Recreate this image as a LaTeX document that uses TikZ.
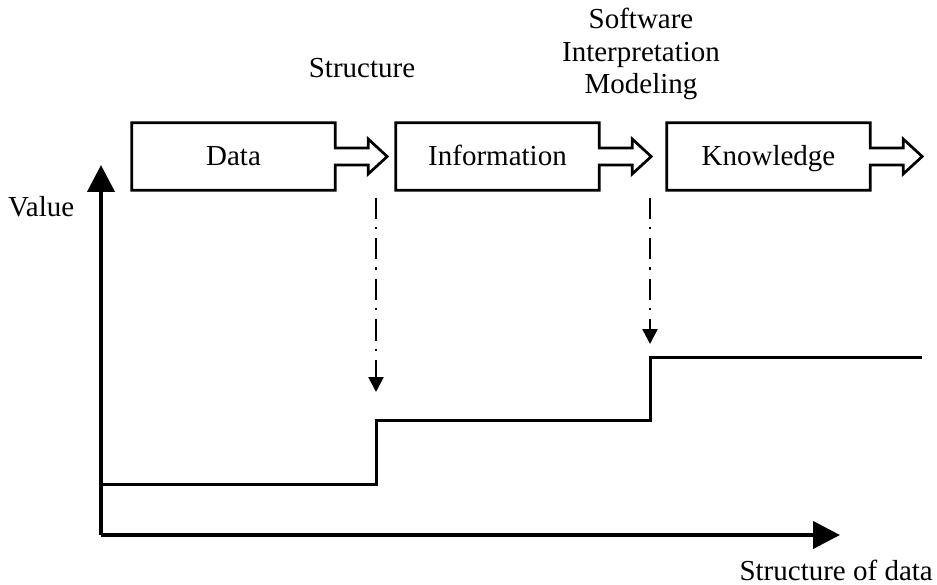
\documentclass[tikz,border=0pt]{standalone}
\usepackage{fontspec}
\setmainfont{Liberation Serif}
\usetikzlibrary{arrows.meta,calc}
\begin{document}
\begin{tikzpicture}[x=1pt,y=-1pt,
  every node/.style={font=\fontsize{29}{32.5}\selectfont, inner sep=0pt},
  stagebox/.style={minimum width=203pt, minimum height=67pt, text height=25pt, text depth=6pt},
  outline/.style={line width=2.7pt, line join=miter},
  axis/.style={line width=4.2pt, -{Triangle[length=27pt,width=27pt]}},
  level/.style={line width=3pt},
  dashdot/.style={line width=2.6pt, dash pattern=on 21pt off 8pt on 2.5pt off 9pt, -{Triangle[length=15pt,width=15pt]}}
]
\useasboundingbox (0,0) rectangle (937,585);

% stage boxes with outline arrows
\node[stagebox] (data) at (233.5,156.5) {Data};
\node[stagebox] (info) at (497.5,156.5) {Information};
\node[stagebox] (know) at (768.5,156.5) {Knowledge};

\foreach \b in {data,info,know}{
  \draw[outline] (\b.north west) -- (\b.north east) -- ($(\b.east)+(0,-8.5)$)
    -- ++(33,0) -- ++(0,-9) -- ($(\b.east)+(52,0)$)
    -- ($(\b.east)+(33,17.5)$) -- ++(0,-9) -- ($(\b.east)+(0,8.5)$)
    -- (\b.south east) -- (\b.south west) -- cycle;
}

% labels
\node[anchor=base west] (val) at (8,217) {Value};
\node[anchor=base] (struct) at (362,78) {Structure};
\node[align=center] (soft) at (641,54) {Software\\Interpretation\\Modeling};
\node[anchor=base east] (sod) at (933,580) {Structure of data};

% axes
\coordinate (origin) at (101,535);
\coordinate (ytip) at (101,165);
\coordinate (xtip) at (840,535);
\draw[axis] (origin) -- (ytip);
\draw[axis] (origin) -- (xtip);

% value levels
\coordinate (l0) at (101,484);
\coordinate (s1a) at (376,484);
\coordinate (s1b) at (376,420);
\coordinate (s2a) at (650,420);
\coordinate (s2b) at (650,357);
\coordinate (l2) at (922,357);
\draw[level] (l0) -- (s1a) -- (s1b) -- (s2a) -- (s2b) -- (l2);

% dash-dot arrows
\coordinate (d1) at (376,198);
\coordinate (d1e) at (376,392);
\coordinate (d2) at (650,198);
\coordinate (d2e) at (650,344);
\draw[dashdot] (d1) -- (d1e);
\draw[dashdot] (d2) -- (d2e);
\end{tikzpicture}
\end{document}
